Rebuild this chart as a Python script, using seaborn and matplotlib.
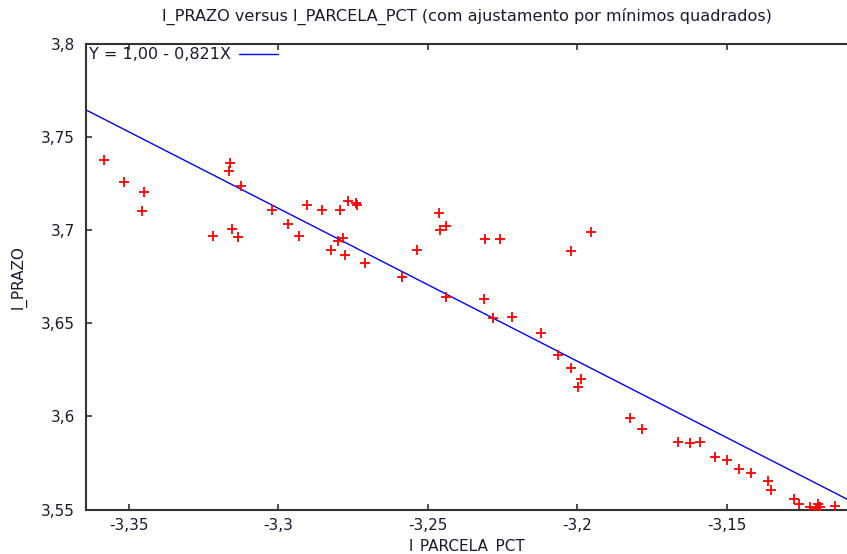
import numpy as np
import pandas as pd
import matplotlib
matplotlib.use("Agg")
import matplotlib.pyplot as plt
import seaborn as sns

# ---- data ----
parcela = [-3.3583, -3.3517, -3.3450, -3.3457, -3.3217, -3.3160, -3.3163, -3.3153,
           -3.3133, -3.3123, -3.3020, -3.2967, -3.2930, -3.2903, -3.2853, -3.2793,
           -3.2767, -3.2740, -3.2737, -3.2783, -3.2800, -3.2823, -3.2777, -3.2710,
           -3.2587, -3.2537, -3.2463, -3.2460, -3.2437, -3.2440, -3.2313, -3.2307,
           -3.2257, -3.2283, -3.2217, -3.2020, -3.1953, -3.2120, -3.2063, -3.2020,
           -3.1987, -3.1997, -3.1823, -3.1783, -3.1663, -3.1623, -3.1590, -3.1537,
           -3.1497, -3.1457, -3.1417, -3.1360, -3.1350, -3.1273, -3.1257, -3.1220,
           -3.1200, -3.1193, -3.1187, -3.1137]
prazo = [3.7378, 3.7260, 3.7206, 3.7104, 3.6969, 3.7362, 3.7319, 3.7007,
         3.6964, 3.7238, 3.7109, 3.7034, 3.6969, 3.7136, 3.7109, 3.7109,
         3.7158, 3.7147, 3.7136, 3.6959, 3.6942, 3.6894, 3.6867, 3.6824,
         3.6749, 3.6894, 3.7093, 3.7002, 3.7023, 3.6641, 3.6631, 3.6953,
         3.6953, 3.6529, 3.6534, 3.6889, 3.6991, 3.6448, 3.6330, 3.6260,
         3.6201, 3.6158, 3.5991, 3.5932, 3.5862, 3.5856, 3.5862, 3.5781,
         3.5765, 3.5717, 3.5695, 3.5652, 3.5604, 3.5554, 3.5527, 3.5516,
         3.5505, 3.5532, 3.5516, 3.5521]

fit_intercept = 1.0025
fit_slope = -0.821
fit_label = "Y = 1,00 - 0,821X"

x_range = [-3.3643, -3.1097]
y_range = [3.55, 3.80]
xticks = [-3.35, -3.30, -3.25, -3.20, -3.15]
xtick_labels = ["-3,35", "-3,3", "-3,25", "-3,2", "-3,15"]
yticks = [3.55, 3.60, 3.65, 3.70, 3.75, 3.80]
ytick_labels = ["3,55", "3,6", "3,65", "3,7", "3,75", "3,8"]

title = "l_PRAZO versus l_PARCELA_PCT (com ajustamento por mínimos quadrados)"
xlabel = "l_PARCELA_PCT"
ylabel = "l_PRAZO"

# ---- plotting ----
sns.set_style("white")
plt.rcParams['font.family'] = ['DejaVu Sans']

W, H = 847, 554
fig = plt.figure(figsize=(W / 100, H / 100), dpi=100)
left, right, top, bottom = 86, 847, 44, 509.5
ax = fig.add_axes([left / W, 1 - bottom / H, (right - left) / W, (bottom - top) / H])

df = pd.DataFrame({"x": parcela, "y": prazo})
fit_x = np.array(x_range)
line_df = pd.DataFrame({"x": fit_x, "y": fit_intercept + fit_slope * fit_x})

sns.lineplot(data=line_df, x="x", y="y", ax=ax, color="#0000ff", linewidth=1.0,
             label=fit_label, zorder=2)
sns.scatterplot(data=df, x="x", y="y", ax=ax, marker="+", color="#ff0000",
                s=60, linewidth=1.3, zorder=3, legend=False)

ax.set_xlim(x_range)
ax.set_ylim(y_range)
ax.set_xticks(xticks)
ax.set_xticklabels(xtick_labels)
ax.set_yticks(yticks)
ax.set_yticklabels(ytick_labels)

txt_col = "#1a1a2e"
fs = 11
ax.tick_params(axis="both", direction="in", length=4, width=1.2, color="#333333",
               labelsize=fs, labelcolor=txt_col, top=True, bottom=True, left=True, right=False)
ax.tick_params(axis="x", pad=6)
ax.tick_params(axis="y", pad=8)

for s in ["left", "bottom", "top"]:
    ax.spines[s].set_visible(True)
    ax.spines[s].set_color("#333333")
    ax.spines[s].set_linewidth(1.5)
ax.spines["right"].set_visible(False)

ax.set_xlabel(xlabel, fontsize=fs, color=txt_col, labelpad=4)
ax.set_ylabel(ylabel, fontsize=fs, color=txt_col, labelpad=10)
ax.set_title(title, fontsize=11.6, color=txt_col, pad=17)

leg = ax.legend(loc="upper left", bbox_to_anchor=(0.0, 1.0), frameon=False,
                markerfirst=False, fontsize=11.5, handlelength=2.4, handletextpad=0.5,
                borderaxespad=0.05, borderpad=0.15)
for t in leg.get_texts():
    t.set_color(txt_col)

fig.savefig("out.png", dpi=100)
